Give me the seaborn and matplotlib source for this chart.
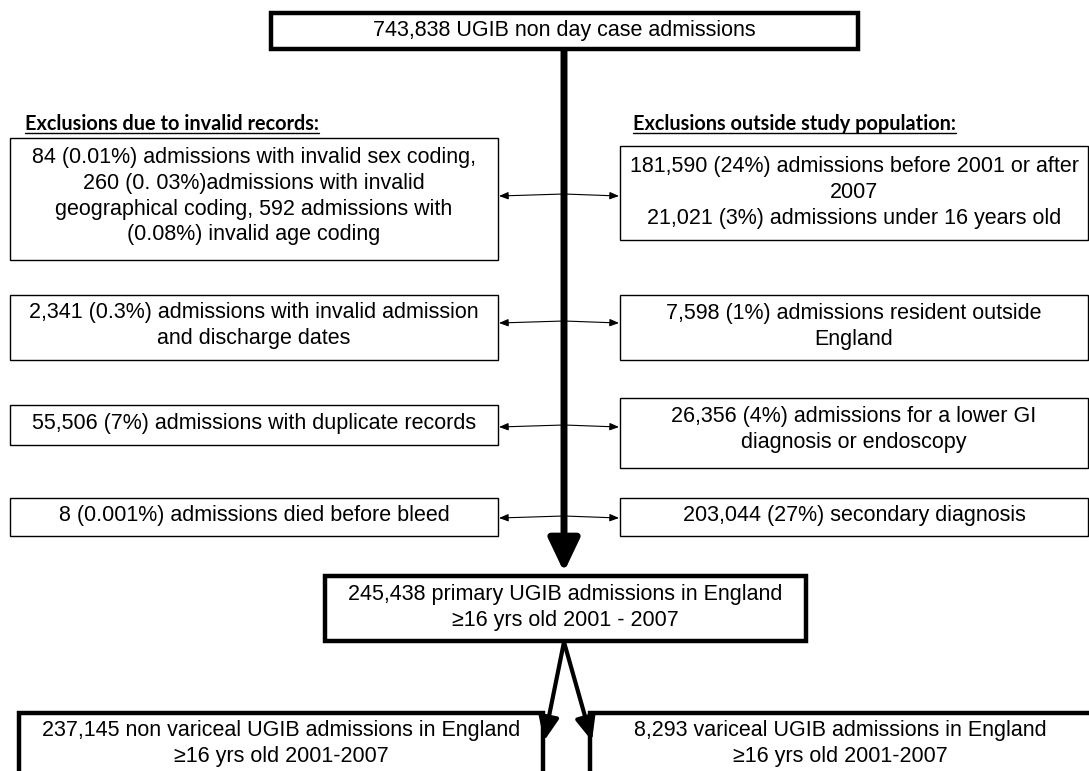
"""
Flowchart of UGIB admissions: exclusions and final study population
"""

import matplotlib.pyplot as plt
import seaborn as sns
from matplotlib.patches import Rectangle

sns.set_theme(style="white")
plt.rcParams['font.family'] = ['Liberation Sans', 'DejaVu Sans']
plt.rcParams['text.color'] = 'black'

# Texts of the chart
top_text = "743,838 UGIB non day case admissions"
left_header = "Exclusions due to invalid records:"
right_header = "Exclusions outside study population:"
left_texts = [
    "84 (0.01%) admissions with invalid sex coding,\n260 (0. 03%)admissions with invalid\ngeographical coding, 592 admissions with\n(0.08%) invalid age coding",
    "2,341 (0.3%) admissions with invalid admission\nand discharge dates",
    "55,506 (7%) admissions with duplicate records",
    "8 (0.001%) admissions died before bleed",
]
right_texts = [
    "181,590 (24%) admissions before 2001 or after\n2007\n21,021 (3%) admissions under 16 years old",
    "7,598 (1%) admissions resident outside\nEngland",
    "26,356 (4%) admissions for a lower GI\ndiagnosis or endoscopy",
    "203,044 (27%) secondary diagnosis",
]
middle_text = "245,438 primary UGIB admissions in England\n\u226516 yrs old 2001 - 2007"
bottom_texts = [
    "237,145 non variceal UGIB admissions in England\n\u226516 yrs old 2001-2007",
    "8,293 variceal UGIB admissions in England\n\u226516 yrs old 2001-2007",
]

# Layout (pixel units, y going down)
W, H = 1089, 771
left_x = (10, 498)
right_x = (620, 1088)
left_rows = [(138, 260), (295, 360), (405, 445), (498, 536)]
right_rows = [(146, 240), (295, 360), (398, 468), (498, 536)]
left_text_y = [147, 302, 413, 505]
right_text_y = [156, 303, 406, 505]
arrow_y = [194, 321, 425, 516]
center_x = 564

fig = plt.figure(figsize=(W / 100, H / 100), dpi=100)
ax = fig.add_axes([0, 0, 1, 1])
ax.set_xlim(0, W)
ax.set_ylim(H, 0)
ax.axis('off')

FS = 15.5
LS = 1.3


def box(x0, x1, y0, y1, text, ty, lw=1.0):
    ax.add_patch(Rectangle((x0, y0), x1 - x0, y1 - y0, facecolor='white',
                           edgecolor='black', lw=lw, zorder=2))
    ax.text((x0 + x1) / 2, ty, text, ha='center', va='top',
            fontsize=FS, linespacing=LS, zorder=3)


def arrow(start, tip, lw, hl, hw, z=1):
    ax.annotate('', xy=tip, xytext=start,
                arrowprops=dict(arrowstyle=f'-|>,head_length={hl},head_width={hw}',
                                lw=lw, color='black', shrinkA=0, shrinkB=0,
                                mutation_scale=10),
                zorder=z)


# main trunk
arrow((center_x, 50), (center_x, 572), 5, 2.0, 0.95)

# top box
box(271, 858, 13, 49, top_text, 20, lw=3.2)

# side boxes with arrows
for (y0, y1), ty, t in zip(left_rows, left_text_y, left_texts):
    box(left_x[0], left_x[1], y0, y1, t, ty)
for (y0, y1), ty, t in zip(right_rows, right_text_y, right_texts):
    box(right_x[0], right_x[1], y0, y1, t, ty)
for ya in arrow_y:
    arrow((center_x, ya), (left_x[1] + 1, ya + 2), 0.8, 0.55, 0.22, z=4)
    arrow((center_x, ya), (right_x[0] - 1, ya + 2), 0.8, 0.55, 0.22, z=4)

# headers (bold, underlined)
fig.canvas.draw()
renderer = fig.canvas.get_renderer()
for hx, htxt in [(25, left_header), (633, right_header)]:
    t = ax.text(hx, 130, htxt, fontsize=14.3, fontweight='bold', family=['Lato', 'DejaVu Sans'],
                ha='left', va='baseline')
    bb = t.get_window_extent(renderer).transformed(ax.transData.inverted())
    ax.plot([bb.x0, bb.x1], [133, 133], color='black', lw=1.0)

# middle box
box(325, 806, 576, 641, middle_text, 584, lw=3.2)

# split arrows
arrow((center_x, 642), (544, 741), 3.0, 1.4, 0.6, z=5)
arrow((center_x, 642), (592, 741), 3.0, 1.4, 0.6, z=5)

# bottom boxes (cut by the lower edge)
ax.add_patch(Rectangle((19, 713), 524, 100, facecolor='white', edgecolor='black', lw=3.2, zorder=2))
ax.add_patch(Rectangle((590, 713), 510, 100, facecolor='white', edgecolor='black', lw=3.2, zorder=2))
ax.text(281, 720, bottom_texts[0], ha='center', va='top', fontsize=FS, linespacing=LS, zorder=3)
ax.text(840, 720, bottom_texts[1], ha='center', va='top', fontsize=FS, linespacing=LS, zorder=3)

plt.savefig('out.png', dpi=100)
